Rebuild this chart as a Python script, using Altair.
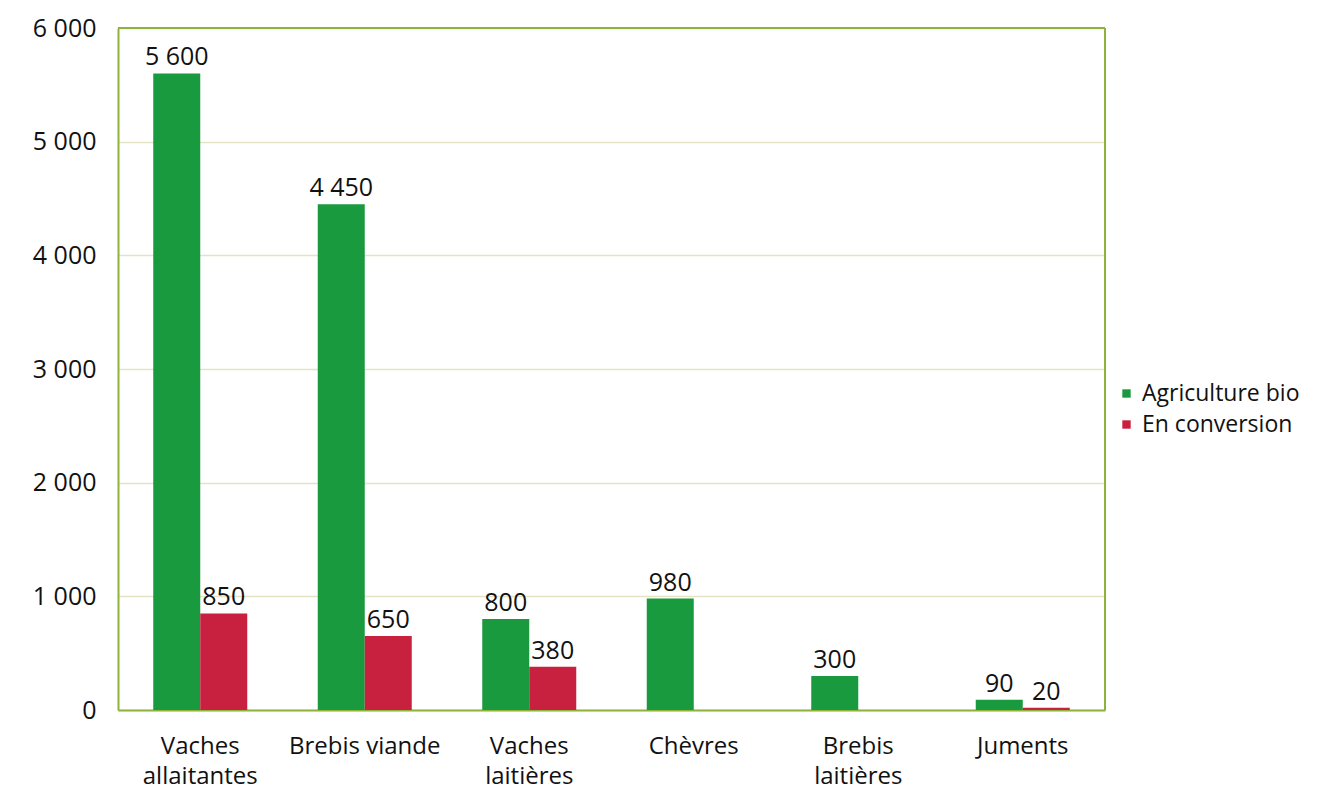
import altair as alt
import pandas as pd

categories = ["Vaches allaitantes", "Brebis viande", "Vaches laitières", "Chèvres", "Brebis laitières", "Juments"]
series = ["Agriculture bio", "En conversion"]
bio = [5600, 4450, 800, 980, 300, 90]
conversion = [850, 650, 380, None, None, 20]
colors = ["#1a9a3e", "#c8203f"]
y_ticks = [0, 1000, 2000, 3000, 4000, 5000, 6000]

rows = []
for c, b, v in zip(categories, bio, conversion):
    if b is not None:
        rows.append({"cat": c, "serie": series[0], "value": b})
    if v is not None:
        rows.append({"cat": c, "serie": series[1], "value": v})
df = pd.DataFrame(rows)

FONT = "Open Sans"
BORDER = "#8db33a"
W, H = 987, 682

x = alt.X("cat:N", sort=categories,
          scale=alt.Scale(paddingInner=0, paddingOuter=0),
          axis=alt.Axis(title=None, labelAngle=0, ticks=False, domain=True,
                        domainColor=BORDER, domainWidth=2,
                        labelFontSize=24, labelColor="#111", labelFont=FONT,
                        labelPadding=24, labelLineHeight=30,
                        labelExpr="indexof(datum.label,'viande')>=0 ? datum.label : split(datum.label,' ')"))
xo = alt.XOffset("serie:N", sort=series,
                 scale=alt.Scale(domain=series, paddingInner=0, paddingOuter=0.75))
y = alt.Y("value:Q",
          scale=alt.Scale(domain=[0, 6000], nice=False),
          axis=alt.Axis(title=None, values=y_ticks, ticks=False, domain=True,
                        domainColor=BORDER, domainWidth=2,
                        labelFontSize=25, labelColor="#111", labelFont=FONT,
                        labelPadding=22,
                        gridColor="#e4e4c4", gridWidth=1.5,
                        labelExpr="replace(format(datum.value, ',d'), ',', ' ')"))

bars = alt.Chart(df).mark_bar().encode(
    x=x, xOffset=xo, y=y,
    color=alt.Color("serie:N", sort=series,
                    scale=alt.Scale(domain=series, range=colors),
                    legend=alt.Legend(title=None, orient="none", legendX=997, legendY=354,
                                      symbolType="square", symbolSize=70, labelLimit=400,
                                      labelFontSize=23, labelFont=FONT, labelColor="#111",
                                      rowPadding=7, symbolOffset=0, labelOffset=4))
)

labels = alt.Chart(df).transform_calculate(
    lbl="replace(format(datum.value, ',d'), ',', ' ')"
).mark_text(baseline="bottom", dy=-3, fontSize=25, font=FONT, color="#111").encode(
    x=x, xOffset=xo, y=y, text="lbl:N"
)

top_rule = alt.Chart(df).mark_rule(color=BORDER, strokeWidth=2).encode(
    x=alt.value(0), x2=alt.value(W), y=alt.value(0)
)
right_rule = alt.Chart(df).mark_rule(color=BORDER, strokeWidth=2).encode(
    x=alt.value(W), y=alt.value(0), y2=alt.value(H)
)

chart = alt.layer(bars, labels, top_rule, right_rule).properties(
    width=W, height=H,
    autosize=alt.AutoSizeParams(type="none"),
    padding={"left": 110, "top": 20, "right": 205, "bottom": 79},
).configure_view(
    stroke=BORDER, strokeWidth=2
).configure(background="white")

chart.save("out.html", embed_options={"renderer": "svg", "actions": False})
